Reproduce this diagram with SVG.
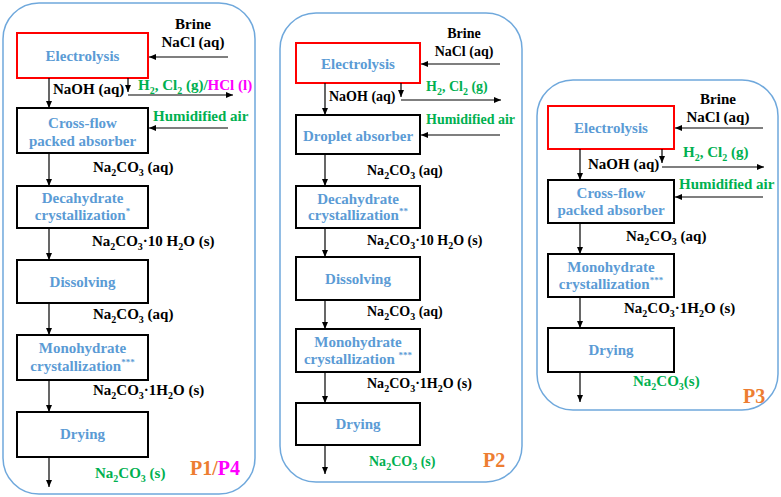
<svg xmlns="http://www.w3.org/2000/svg" width="781" height="497" viewBox="0 0 781 497">
  <style>
    text { font-family: "Liberation Serif", "Times New Roman", serif; font-weight: bold; font-size: 15px; }
    .k { fill: #000000; }
    .b { fill: #5B9BD5; }
    .g { fill: #00B050; }
    .m { fill: #FF00FF; }
    .o { fill: #ED7D31; font-size: 20px; }
    .c { text-anchor: middle; }
    .s14 { font-size: 14px; }
    .sup { font-size: 9px; }
    .panel { fill: #FFFFFF; stroke: #6FA8DC; stroke-width: 1.5; }
    .unit { fill: #FFFFFF; stroke: #000000; stroke-width: 2; }
    .red { fill: #FFFFFF; stroke: #FF0000; stroke-width: 2; }
    .flow { fill: none; stroke: #000000; stroke-width: 1.2; marker-end: url(#ah); }
  </style>
  <defs>
    <marker id="ah" markerUnits="userSpaceOnUse" markerWidth="8" markerHeight="8" refX="7" refY="4" orient="auto">
      <path d="M0,1 L7,4 L0,7 Z" fill="#000000"/>
    </marker>
  </defs>
  <rect width="781" height="497" fill="#FFFFFF"/>

  <!-- Process P1 / P4 -->
  <g id="panel-p1">
    <rect class="panel" x="3" y="3" width="252" height="491" rx="36"/>
    <g id="p1-electrolysis">
      <rect class="red" x="17" y="33" width="131" height="45"/>
      <text class="b c" x="82.5" y="61">Electrolysis</text>
    </g>
    <g id="p1-absorber">
      <rect class="unit" x="17" y="108" width="131" height="45"/>
      <text class="b c" x="82.5" y="128">Cross-flow</text>
      <text class="b c" x="82.5" y="146">packed absorber</text>
    </g>
    <g id="p1-decahydrate">
      <rect class="unit" x="17" y="186" width="131" height="42"/>
      <text class="b c" x="82.5" y="203">Decahydrate</text>
      <text class="b c" x="82.5" y="220">crystallization<tspan class="sup" dy="-6">*</tspan></text>
    </g>
    <g id="p1-dissolving">
      <rect class="unit" x="17" y="260" width="131" height="43"/>
      <text class="b c" x="82.5" y="287">Dissolving</text>
    </g>
    <g id="p1-monohydrate">
      <rect class="unit" x="17" y="335" width="131" height="45"/>
      <text class="b c" x="82.5" y="353">Monohydrate</text>
      <text class="b c" x="82.5" y="371">crystallization<tspan class="sup" dy="-6">***</tspan></text>
    </g>
    <g id="p1-drying">
      <rect class="unit" x="17" y="412" width="131" height="45"/>
      <text class="b c" x="82.5" y="439">Drying</text>
    </g>
    <g id="p1-labels">
      <text class="k c" x="193" y="29">Brine</text>
      <text class="k c" x="193" y="47">NaCl (aq)</text>
      <text class="k" x="53" y="94">NaOH (aq)</text>
      <text class="g" x="138" y="90">H<tspan font-size="10" dy="4">2</tspan><tspan dy="-4">, Cl</tspan><tspan font-size="10" dy="4">2</tspan><tspan dy="-4"> (g)/</tspan><tspan class="m">HCl (l)</tspan></text>
      <text class="g" x="153" y="121">Humidified air</text>
      <text class="k" x="93" y="172">Na<tspan font-size="10" dy="4">2</tspan><tspan dy="-4">CO</tspan><tspan font-size="10" dy="4">3</tspan><tspan dy="-4"> (aq)</tspan></text>
      <text class="k" x="92" y="246">Na<tspan font-size="10" dy="4">2</tspan><tspan dy="-4">CO</tspan><tspan font-size="10" dy="4">3</tspan><tspan dy="-4">·10 H</tspan><tspan font-size="10" dy="4">2</tspan><tspan dy="-4">O (s)</tspan></text>
      <text class="k" x="93" y="319">Na<tspan font-size="10" dy="4">2</tspan><tspan dy="-4">CO</tspan><tspan font-size="10" dy="4">3</tspan><tspan dy="-4"> (aq)</tspan></text>
      <text class="k" x="93" y="395">Na<tspan font-size="10" dy="4">2</tspan><tspan dy="-4">CO</tspan><tspan font-size="10" dy="4">3</tspan><tspan dy="-4">·1H</tspan><tspan font-size="10" dy="4">2</tspan><tspan dy="-4">O (s)</tspan></text>
      <text class="g" x="95" y="478">Na<tspan font-size="10" dy="4">2</tspan><tspan dy="-4">CO</tspan><tspan font-size="10" dy="4">3</tspan><tspan dy="-4"> (s)</tspan></text>
      <text class="o" x="190" y="475">P1/<tspan class="m">P4</tspan></text>
    </g>
  </g>

  <!-- Process P2 -->
  <g id="panel-p2">
    <rect class="panel" x="280" y="13" width="242" height="469" rx="36"/>
    <g id="p2-electrolysis">
      <rect class="red" x="296" y="43" width="124" height="40"/>
      <text class="b c" x="358" y="69">Electrolysis</text>
    </g>
    <g id="p2-absorber">
      <rect class="unit" x="296" y="115" width="124" height="39"/>
      <text class="b c" x="358" y="141">Droplet absorber</text>
    </g>
    <g id="p2-decahydrate">
      <rect class="unit" x="296" y="186" width="124" height="42"/>
      <text class="b c" x="358" y="204">Decahydrate</text>
      <text class="b c" x="358" y="220">crystallization<tspan class="sup" dy="-6">**</tspan></text>
    </g>
    <g id="p2-dissolving">
      <rect class="unit" x="296" y="257" width="124" height="43"/>
      <text class="b c" x="358" y="284">Dissolving</text>
    </g>
    <g id="p2-monohydrate">
      <rect class="unit" x="296" y="329" width="124" height="43"/>
      <text class="b c" x="358" y="347">Monohydrate</text>
      <text class="b c" x="358" y="364">crystallization <tspan class="sup" dy="-6">***</tspan></text>
    </g>
    <g id="p2-drying">
      <rect class="unit" x="296" y="403" width="124" height="42"/>
      <text class="b c" x="358" y="429">Drying</text>
    </g>
    <g id="p2-labels" class="s14">
      <text class="k c s14" x="464" y="38">Brine</text>
      <text class="k c s14" x="464" y="56">NaCl (aq)</text>
      <text class="k s14" x="329" y="101">NaOH (aq)</text>
      <text class="g s14" x="426" y="91">H<tspan font-size="10" dy="4">2</tspan><tspan dy="-4">, Cl</tspan><tspan font-size="10" dy="4">2</tspan><tspan dy="-4"> (g)</tspan></text>
      <text class="g s14" x="426" y="124">Humidified air</text>
      <text class="k s14" x="367" y="175">Na<tspan font-size="10" dy="4">2</tspan><tspan dy="-4">CO</tspan><tspan font-size="10" dy="4">3</tspan><tspan dy="-4"> (aq)</tspan></text>
      <text class="k s14" x="367" y="245">Na<tspan font-size="10" dy="4">2</tspan><tspan dy="-4">CO</tspan><tspan font-size="10" dy="4">3</tspan><tspan dy="-4">·10 H</tspan><tspan font-size="10" dy="4">2</tspan><tspan dy="-4">O (s)</tspan></text>
      <text class="k s14" x="367" y="316">Na<tspan font-size="10" dy="4">2</tspan><tspan dy="-4">CO</tspan><tspan font-size="10" dy="4">3</tspan><tspan dy="-4"> (aq)</tspan></text>
      <text class="k s14" x="367" y="388">Na<tspan font-size="10" dy="4">2</tspan><tspan dy="-4">CO</tspan><tspan font-size="10" dy="4">3</tspan><tspan dy="-4">·1H</tspan><tspan font-size="10" dy="4">2</tspan><tspan dy="-4">O (s)</tspan></text>
      <text class="g s14" x="369" y="466">Na<tspan font-size="10" dy="4">2</tspan><tspan dy="-4">CO</tspan><tspan font-size="10" dy="4">3</tspan><tspan dy="-4"> (s)</tspan></text>
      <text class="o" x="483" y="467">P2</text>
    </g>
  </g>

  <!-- Process P3 -->
  <g id="panel-p3">
    <rect class="panel" x="537" y="80" width="241" height="330" rx="36"/>
    <g id="p3-electrolysis">
      <rect class="red" x="548" y="106" width="126" height="43"/>
      <text class="b c" x="611" y="133">Electrolysis</text>
    </g>
    <g id="p3-absorber">
      <rect class="unit" x="548" y="180" width="126" height="43"/>
      <text class="b c" x="611" y="198">Cross-flow</text>
      <text class="b c" x="611" y="215">packed absorber</text>
    </g>
    <g id="p3-monohydrate">
      <rect class="unit" x="548" y="254" width="126" height="43"/>
      <text class="b c" x="611" y="272">Monohydrate</text>
      <text class="b c" x="611" y="289">crystallization<tspan class="sup" dy="-6">***</tspan></text>
    </g>
    <g id="p3-drying">
      <rect class="unit" x="548" y="328" width="126" height="44"/>
      <text class="b c" x="611" y="355">Drying</text>
    </g>
    <g id="p3-labels">
      <text class="k c" x="718" y="104">Brine</text>
      <text class="k c" x="718" y="122">NaCl (aq)</text>
      <text class="k" x="588" y="169">NaOH (aq)</text>
      <text class="g" x="683" y="157">H<tspan font-size="10" dy="4">2</tspan><tspan dy="-4">, Cl</tspan><tspan font-size="10" dy="4">2</tspan><tspan dy="-4"> (g)</tspan></text>
      <text class="g" x="679" y="189">Humidified air</text>
      <text class="k" x="626" y="241">Na<tspan font-size="10" dy="4">2</tspan><tspan dy="-4">CO</tspan><tspan font-size="10" dy="4">3</tspan><tspan dy="-4"> (aq)</tspan></text>
      <text class="k" x="624" y="313">Na<tspan font-size="10" dy="4">2</tspan><tspan dy="-4">CO</tspan><tspan font-size="10" dy="4">3</tspan><tspan dy="-4">·1H</tspan><tspan font-size="10" dy="4">2</tspan><tspan dy="-4">O (s)</tspan></text>
      <text class="g" x="633" y="386">Na<tspan font-size="10" dy="4">2</tspan><tspan dy="-4">CO</tspan><tspan font-size="10" dy="4">3</tspan><tspan dy="-4">(s)</tspan></text>
      <text class="o" x="743" y="403">P3</text>
    </g>
  </g>

  <!-- Connectors -->
  <g id="connectors">
    <!-- P1/P4 -->
    <line class="flow" x1="228" y1="57" x2="149" y2="57"/>
    <line class="flow" x1="49" y1="78" x2="49" y2="108"/>
    <line class="flow" x1="128" y1="78" x2="128" y2="92"/>
    <line class="flow" x1="128" y1="95" x2="233" y2="95"/>
    <line class="flow" x1="228" y1="128" x2="149" y2="128"/>
    <line class="flow" x1="49" y1="153" x2="49" y2="186"/>
    <line class="flow" x1="49" y1="228" x2="49" y2="260"/>
    <line class="flow" x1="49" y1="303" x2="49" y2="335"/>
    <line class="flow" x1="49" y1="380" x2="49" y2="412"/>
    <line class="flow" x1="49" y1="457" x2="49" y2="487"/>
    <!-- P2 -->
    <line class="flow" x1="500" y1="64" x2="421" y2="64"/>
    <line class="flow" x1="325" y1="83" x2="325" y2="115"/>
    <line class="flow" x1="401" y1="83" x2="401" y2="97"/>
    <line class="flow" x1="401" y1="100" x2="501" y2="100"/>
    <line class="flow" x1="500" y1="135" x2="421" y2="135"/>
    <line class="flow" x1="325" y1="154" x2="325" y2="186"/>
    <line class="flow" x1="325" y1="228" x2="325" y2="257"/>
    <line class="flow" x1="325" y1="300" x2="325" y2="329"/>
    <line class="flow" x1="325" y1="372" x2="325" y2="403"/>
    <line class="flow" x1="325" y1="445" x2="325" y2="474"/>
    <!-- P3 -->
    <line class="flow" x1="763" y1="128" x2="675" y2="128"/>
    <line class="flow" x1="580" y1="149" x2="580" y2="180"/>
    <line class="flow" x1="662" y1="149" x2="662" y2="163"/>
    <line class="flow" x1="662" y1="167" x2="764" y2="167"/>
    <line class="flow" x1="763" y1="197" x2="675" y2="197"/>
    <line class="flow" x1="580" y1="223" x2="580" y2="254"/>
    <line class="flow" x1="580" y1="297" x2="580" y2="328"/>
    <line class="flow" x1="580" y1="372" x2="580" y2="402"/>
  </g>
</svg>
